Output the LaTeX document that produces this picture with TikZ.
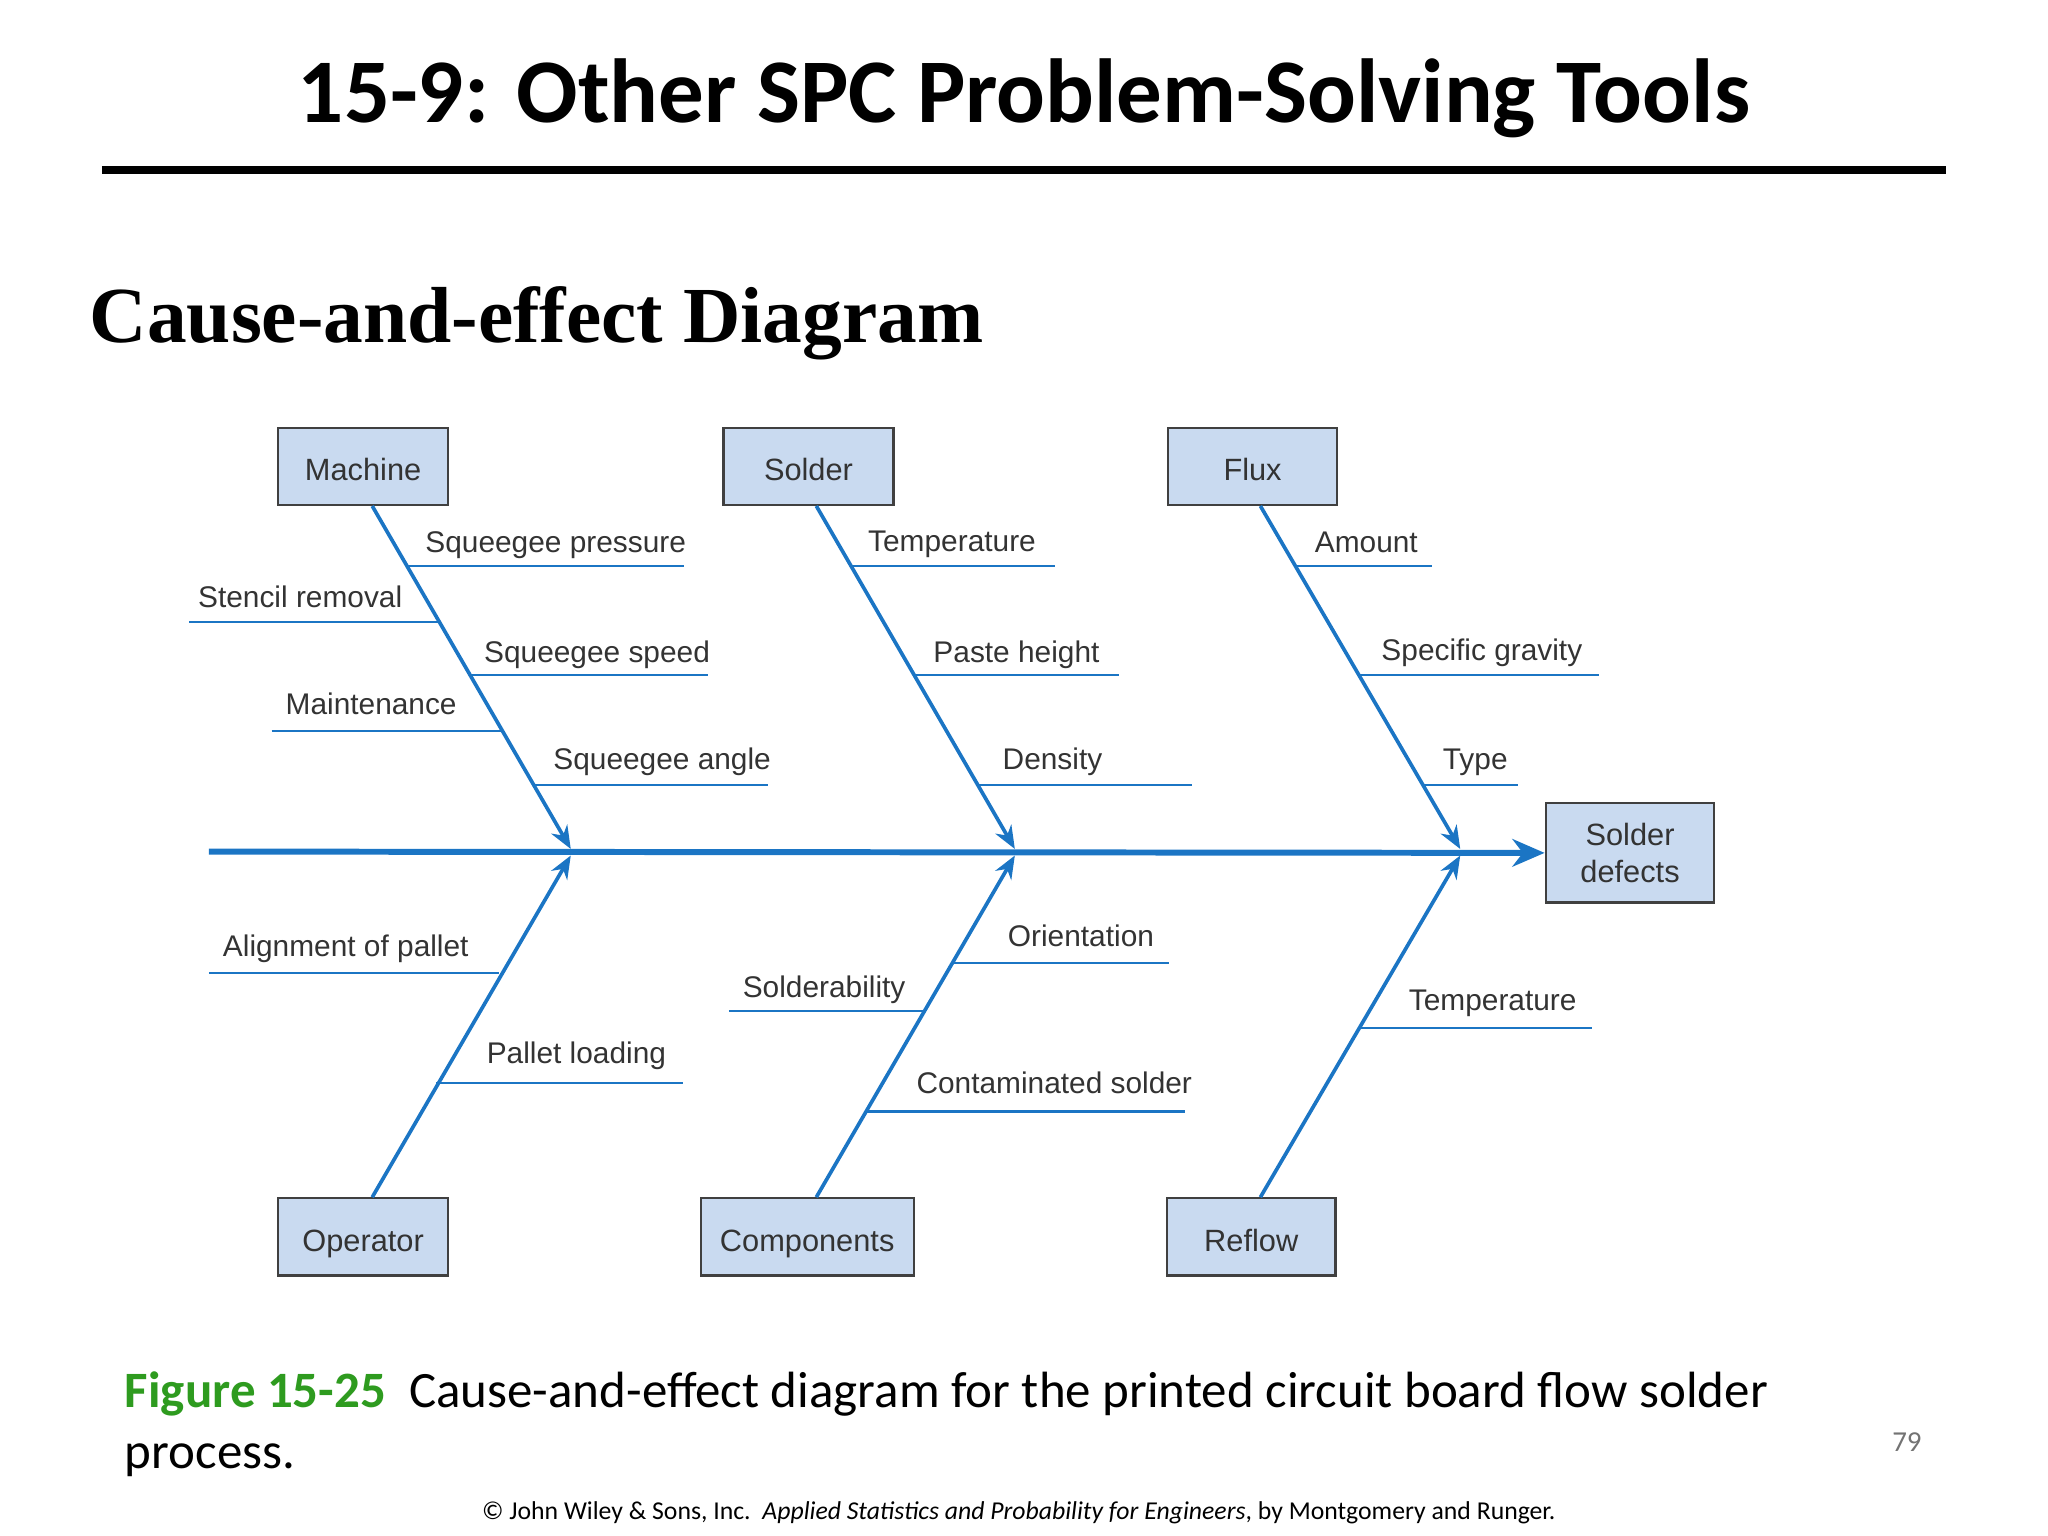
\documentclass[tikz,border=0pt]{standalone}
\usepackage{fontspec}
\setmainfont{Carlito}
\newfontfamily\lab{Liberation Sans}
\newfontfamily\tms{Liberation Serif}
\usetikzlibrary{arrows.meta}
\definecolor{bl}{HTML}{1B75C4}
\definecolor{bx}{HTML}{C9DAF0}
\definecolor{tx}{HTML}{333333}
\begin{document}
\begin{tikzpicture}[x=0.01cm,y=-0.01cm,
  cbox/.style={draw=black!75,fill=bx,line width=0.5pt,inner sep=0pt,font=\lab\fontsize{6.7}{8}\selectfont,text=tx,align=center,minimum height=0.59cm},
  sbox/.style={cbox,text height=1.75ex,text depth=0.45ex},
  lbl/.style={anchor=base west,inner sep=0pt,font=\lab\fontsize{6.5}{8}\selectfont,text=tx},
  ul/.style={bl,line width=0.45pt},
  bone/.style={bl,line width=0.8pt,-{Stealth[length=5pt,width=4pt]}}]
\useasboundingbox (0,0) rectangle (1568,1176);
\node[font=\bfseries\fontsize{19.8}{24}\selectfont] (title) at (784,75) {15-9: Other SPC Problem-Solving Tools};
\draw[line width=1.7pt] (78,130) -- (1490,130);
\node[anchor=base west,inner sep=0pt,font=\tms\bfseries\fontsize{17.3}{20}\selectfont] (head) at (68,262) {Cause-and-effect Diagram};
% boxes
\node[sbox,minimum width=1.3cm] (mach) at (278,357) {Machine};
\node[sbox,minimum width=1.3cm] (sold) at (619,357) {Solder};
\node[sbox,minimum width=1.29cm] (flux) at (959,357) {Flux};
\node[sbox,minimum width=1.3cm] (oper) at (278,947) {Operator};
\node[sbox,minimum width=1.63cm] (comp) at (618,947) {Components};
\node[sbox,minimum width=1.29cm] (refl) at (958,947) {Reflow};
\node[cbox,minimum width=1.29cm,minimum height=0.76cm] (eff) at (1248,653) {Solder\\defects};
% spine
\coordinate (s0) at (160,652);
\draw[bl,line width=1.3pt,-{Stealth[length=7pt,width=6pt]}] (s0) -- (eff.west);
\coordinate (m) at (437,650); \coordinate (s) at (777,650); \coordinate (f) at (1118,650);
\coordinate (mb) at (437,655); \coordinate (sb) at (777,655); \coordinate (fb) at (1118,655);
\draw[bone] (mach.south -| 285,0) -- (m);
\draw[bone] (sold.south -| 625,0) -- (s);
\draw[bone] (flux.south -| 965,0) -- (f);
\draw[bone] (oper.north -| 285,0) -- (mb);
\draw[bone] (comp.north -| 625,0) -- (sb);
\draw[bone] (refl.north -| 965,0) -- (fb);
% machine
\draw[ul] (311,433) -- (524,433); \node[lbl] (a1) at (325,423) {Squeegee pressure};
\draw[ul] (145,476) -- (336,476); \node[lbl] (a2) at (151,465) {Stencil removal};
\draw[ul] (360,517) -- (542,517); \node[lbl] (a3) at (370,507) {Squeegee speed};
\draw[ul] (208,560) -- (384,560); \node[lbl] (a4) at (218,547) {Maintenance};
\draw[ul] (408,601) -- (588,601); \node[lbl] (a5) at (423,589) {Squeegee angle};
% solder
\draw[ul] (651,433) -- (808,433); \node[lbl] (b1) at (664,422) {Temperature};
\draw[ul] (700,517) -- (857,517); \node[lbl] (b2) at (714,507) {Paste height};
\draw[ul] (748,601) -- (913,601); \node[lbl] (b3) at (767,589) {Density};
% flux
\draw[ul] (991,433) -- (1096,433); \node[lbl] (c1) at (1006,423) {Amount};
\draw[ul] (1040,517) -- (1224,517); \node[lbl] (c2) at (1057,506) {Specific gravity};
\draw[ul] (1089,601) -- (1162,601); \node[lbl] (c3) at (1104,589) {Type};
% operator
\draw[ul] (160,745) -- (382,745); \node[lbl] (d1) at (170,732) {Alignment of pallet};
\draw[ul] (334,829) -- (523,829); \node[lbl] (d2) at (372,814) {Pallet loading};
% components
\draw[ul] (729,737) -- (895,737); \node[lbl] (e1) at (771,725) {Orientation};
\draw[ul] (558,774) -- (708,774); \node[lbl] (e2) at (568,764) {Solderability};
\draw[ul] (663,851) -- (907,851); \node[lbl] (e3) at (701,837) {Contaminated solder};
% reflow
\draw[ul] (1041,787) -- (1219,787); \node[lbl] (g1) at (1078,774) {Temperature};
% caption
\node[anchor=base west,inner sep=0pt,font=\fontsize{11.1}{13}\selectfont] (cap1) at (95,1078) {\textcolor[HTML]{2E9B1F}{\bfseries Figure 15-25}\ \ Cause-and-effect diagram for the printed circuit board flow solder};
\node[anchor=base west,inner sep=0pt,font=\fontsize{11.1}{13}\selectfont] (cap2) at (95,1124) {process.};
\node[anchor=base,inner sep=0pt,font=\fontsize{5.6}{6}\selectfont] (foot) at (780,1163) {\textcopyright{} John Wiley \& Sons, Inc.\ \ \textit{Applied Statistics and Probability for Engineers}, by Montgomery and Runger.};
\node[anchor=base,inner sep=0pt,font=\fontsize{6.3}{7}\selectfont,text=black!55] (pg) at (1460,1111) {79};
\end{tikzpicture}
\end{document}
